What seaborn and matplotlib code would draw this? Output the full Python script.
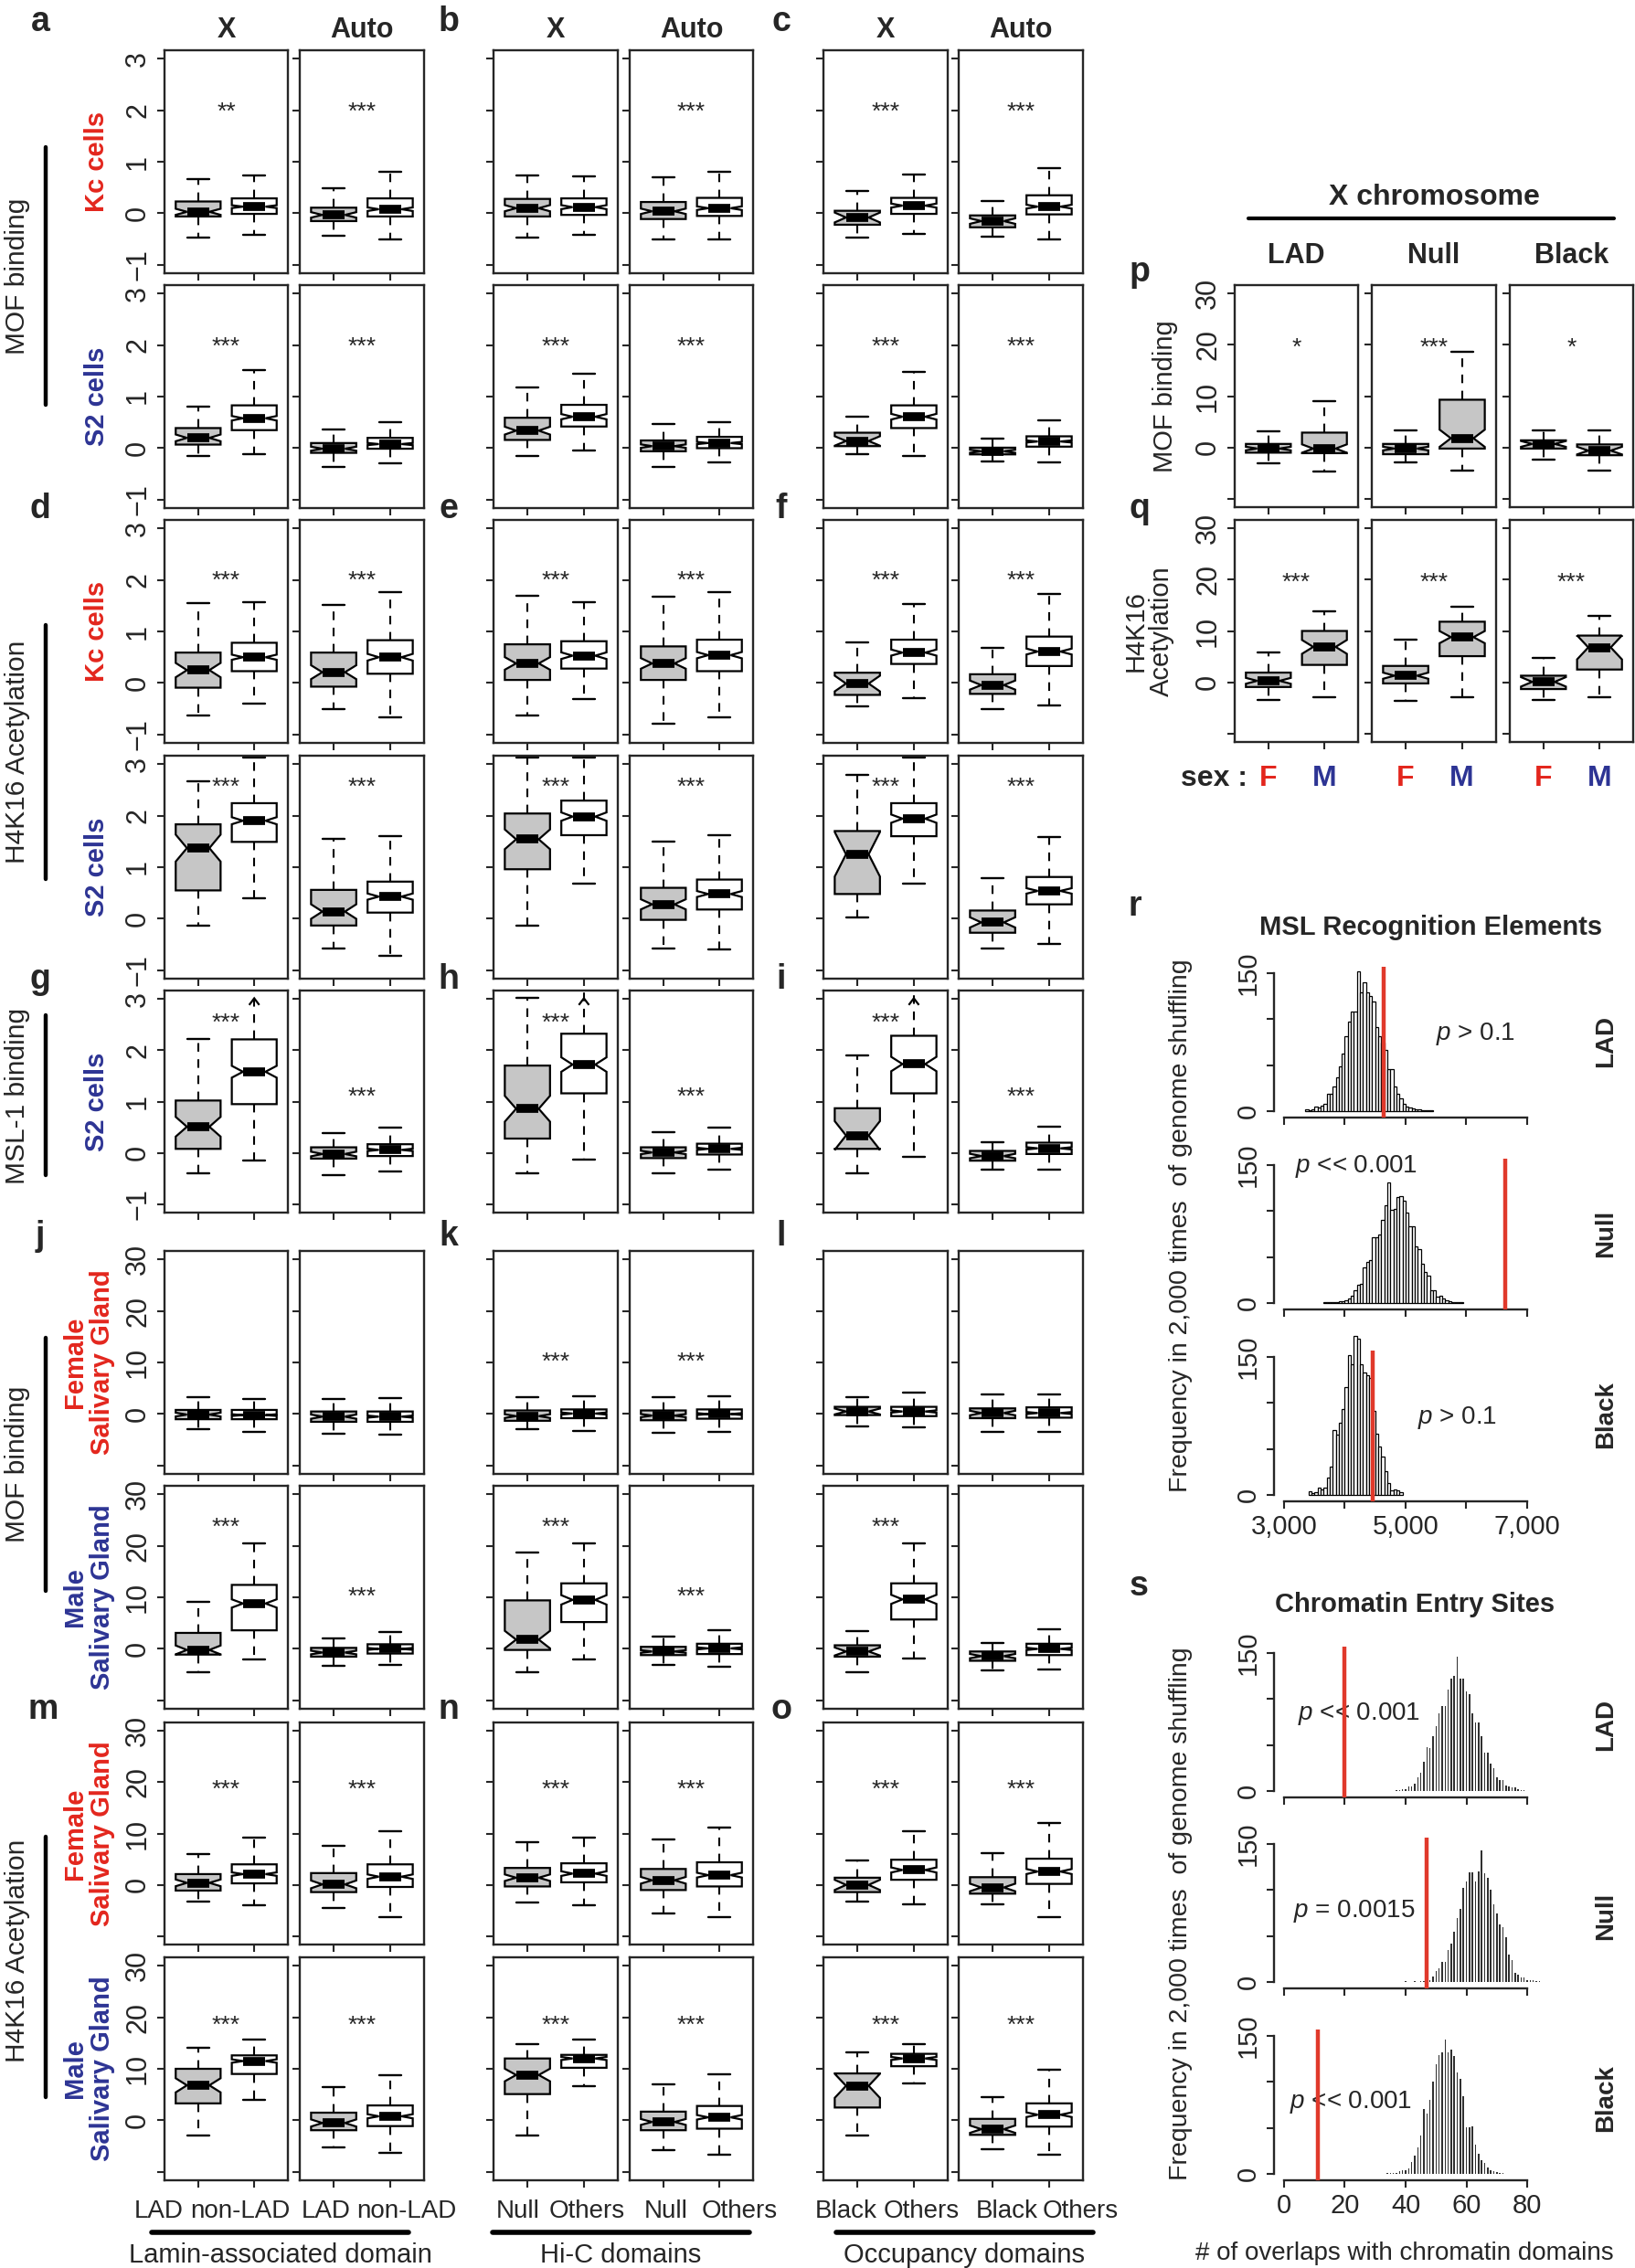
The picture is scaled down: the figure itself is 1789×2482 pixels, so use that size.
import numpy as np
import matplotlib.pyplot as plt
import seaborn as sns
from matplotlib.lines import Line2D

W, H = 1790, 2482
RED = "#e3261d"
BLUE = "#2d3494"
GRAY = "#c6c6c6"
LINE_RED = "#e0392b"

# ---- panels a-o : box summaries, one list per row, 6 panels x (gray, white) ----
col_groups = ["LAD X", "LAD Auto", "Null X", "Null Auto", "Black X", "Black Auto"]
box_lo = [
    [-0.47, -0.41, -0.43, -0.51, -0.47, -0.41, -0.50, -0.51, -0.47, -0.40, -0.45, -0.51],
    [-0.15, -0.11, -0.36, -0.30, -0.15, -0.04, -0.37, -0.28, -0.11, -0.15, -0.26, -0.27],
    [-0.62, -0.39, -0.51, -0.67, -0.62, -0.31, -0.78, -0.67, -0.45, -0.30, -0.51, -0.43],
    [-0.13, 0.40, -0.57, -0.71, -0.13, 0.68, -0.57, -0.59, 0.03, 0.68, -0.57, -0.49],
    [-0.40, -0.14, -0.43, -0.36, -0.40, -0.12, -0.40, -0.33, -0.40, -0.08, -0.33, -0.33],
    [-2.9, -3.5, -3.8, -4.0, -2.9, -3.3, -3.7, -3.5, -2.4, -2.6, -3.4, -3.4],
    [-4.5, -2.1, -3.3, -3.1, -4.5, -2.1, -3.1, -3.4, -4.5, -1.9, -4.2, -3.9],
    [-3.3, -3.9, -4.4, -6.3, -3.5, -3.9, -5.6, -6.3, -3.3, -3.7, -3.8, -6.3],
    [-2.9, 4.0, -5.2, -6.2, -2.9, 6.6, -5.8, -6.6, -2.9, 7.2, -5.5, -6.6],
]
box_q1 = [
    [-0.06, -0.01, -0.15, -0.06, -0.06, -0.03, -0.11, -0.05, -0.22, -0.01, -0.27, -0.02],
    [0.07, 0.35, -0.09, -0.01, 0.16, 0.42, -0.06, 0.00, 0.04, 0.39, -0.12, 0.03],
    [-0.09, 0.23, -0.07, 0.18, 0.06, 0.28, 0.06, 0.23, -0.23, 0.37, -0.21, 0.33],
    [0.55, 1.49, -0.13, 0.12, 0.96, 1.62, -0.02, 0.18, 0.48, 1.60, -0.27, 0.28],
    [0.08, 0.95, -0.11, -0.06, 0.28, 1.16, -0.10, -0.03, 0.08, 1.16, -0.15, -0.02],
    [-1.0, -1.0, -1.5, -1.5, -1.3, -0.8, -1.2, -0.9, -0.2, -0.4, -0.8, -0.7],
    [-1.1, 3.6, -1.5, -0.9, -0.2, 5.2, -1.2, -1.0, -1.5, 5.7, -2.3, -1.2],
    [-1.1, 0.3, -1.4, -0.4, -0.3, 0.5, -1.0, -0.3, -1.4, 1.0, -1.7, 0.2],
    [3.3, 9.0, -1.9, -1.1, 5.1, 10.2, -1.9, -1.6, 2.5, 10.5, -2.8, -1.2],
]
box_med = [
    [0.03, 0.13, -0.03, 0.08, 0.10, 0.12, 0.04, 0.10, -0.08, 0.15, -0.15, 0.13],
    [0.20, 0.58, -0.01, 0.08, 0.34, 0.61, 0.04, 0.10, 0.14, 0.61, -0.06, 0.13],
    [0.25, 0.50, 0.21, 0.50, 0.38, 0.53, 0.38, 0.54, -0.01, 0.59, -0.04, 0.61],
    [1.37, 1.90, 0.14, 0.43, 1.54, 1.98, 0.28, 0.48, 1.25, 1.94, -0.07, 0.54],
    [0.51, 1.58, -0.02, 0.06, 0.86, 1.72, 0.01, 0.08, 0.34, 1.73, -0.06, 0.09],
    [-0.1, -0.2, -0.5, -0.5, -0.4, 0.1, -0.3, 0.0, 0.5, 0.5, 0.2, 0.2],
    [-0.2, 8.8, -0.7, 0.0, 1.8, 9.5, -0.5, 0.1, -0.5, 9.6, -1.4, 0.0],
    [0.4, 2.1, 0.1, 1.6, 1.4, 2.2, 0.9, 1.9, 0.0, 2.9, -0.5, 2.6],
    [6.8, 11.5, -0.5, 0.8, 8.8, 12.0, -0.3, 0.6, 6.7, 12.0, -1.7, 1.1],
]
box_q3 = [
    [0.23, 0.29, 0.11, 0.29, 0.28, 0.29, 0.22, 0.30, 0.05, 0.30, -0.04, 0.35],
    [0.39, 0.83, 0.10, 0.20, 0.59, 0.84, 0.15, 0.22, 0.30, 0.83, 0.01, 0.23],
    [0.59, 0.78, 0.59, 0.83, 0.75, 0.81, 0.71, 0.84, 0.20, 0.84, 0.17, 0.90],
    [1.83, 2.24, 0.56, 0.72, 2.04, 2.29, 0.60, 0.76, 1.70, 2.24, 0.16, 0.81],
    [1.02, 2.21, 0.11, 0.17, 1.70, 2.32, 0.11, 0.18, 0.87, 2.28, 0.04, 0.20],
    [0.8, 0.8, 0.5, 0.5, 0.7, 0.9, 0.7, 0.9, 1.4, 1.4, 1.1, 1.3],
    [3.1, 12.4, 0.2, 0.9, 9.4, 12.7, 0.4, 1.0, 0.7, 12.7, -0.5, 1.0],
    [2.1, 4.0, 2.3, 4.0, 3.3, 4.2, 3.1, 4.4, 1.4, 4.9, 1.5, 5.1],
    [10.0, 12.6, 1.5, 2.9, 12.0, 12.7, 1.7, 2.8, 9.1, 12.9, 0.3, 3.3],
]
box_hi = [
    [0.67, 0.74, 0.48, 0.80, 0.73, 0.71, 0.70, 0.81, 0.44, 0.76, 0.24, 0.88],
    [0.81, 1.51, 0.37, 0.51, 1.18, 1.45, 0.47, 0.51, 0.61, 1.47, 0.19, 0.54],
    [1.55, 1.57, 1.52, 1.77, 1.69, 1.57, 1.67, 1.77, 0.78, 1.54, 0.68, 1.72],
    [2.66, 3.12, 1.54, 1.60, 3.12, 3.12, 1.49, 1.62, 2.78, 3.12, 0.78, 1.59],
    [2.22, 3.60, 0.39, 0.49, 3.02, 3.60, 0.41, 0.49, 1.90, 3.60, 0.21, 0.51],
    [3.3, 3.0, 2.9, 3.1, 3.3, 3.4, 3.3, 3.4, 3.3, 4.1, 3.8, 3.8],
    [9.2, 20.4, 2.1, 3.3, 18.7, 20.4, 2.4, 3.6, 3.5, 20.4, 1.2, 3.8],
    [6.0, 9.2, 7.6, 10.4, 8.4, 9.2, 8.9, 11.1, 4.8, 10.5, 6.1, 12.0],
    [14.0, 15.7, 6.5, 8.7, 14.8, 15.7, 7.0, 8.9, 13.1, 14.8, 4.6, 9.8],
]
# domains per box (sets the notch width, R rule 1.58*IQR/sqrt(n))
dom_n = [60, 300, 60, 250, 80, 170, 100, 250, 20, 160, 47, 250]
row_stars = [
    ["**", "***", "", "***", "***", "***"],
    ["***"] * 6, ["***"] * 6, ["***"] * 6, ["***"] * 6,
    ["", "", "***", "***", "", ""],
    ["***", "***", "***", "***", "***", ""],
    ["***"] * 6, ["***"] * 6,
]
star_y = [
    [1.95] * 6, [1.95] * 6, [1.97] * 6, [2.54] * 6,
    [2.52, 1.08, 2.52, 1.08, 2.52, 1.08],
    [10.0] * 6,
    [23.4, 10.1, 23.4, 10.1, 23.4, 10.1],
    [18.4] * 6, [18.3] * 6,
]
bottom_labels = ["LAD", "non-LAD", "LAD", "non-LAD", "Null", "Others", "Null", "Others",
                 "Black", "Others", "Black", "Others"]

# ---- panels p, q : X chromosome, female vs male ----
xchr_domains = ["LAD", "Null", "Black"]
xchr_lo = [[-3.0, -4.6, -2.9, -4.4, -2.4, -4.4], [-3.4, -2.8, -3.6, -2.8, -3.4, -2.8]]
xchr_q1 = [[-1.0, -1.1, -1.3, -0.2, -0.2, -1.5], [-0.9, 3.4, -0.2, 5.1, -1.3, 2.5]]
xchr_med = [[-0.2, -0.2, -0.2, 1.8, 0.7, -0.6], [0.3, 6.9, 1.3, 8.8, 0.1, 6.8]]
xchr_q3 = [[0.7, 2.9, 0.7, 9.3, 1.4, 0.6], [1.9, 10.0, 3.2, 11.8, 1.3, 9.1]]
xchr_hi = [[3.2, 9.0, 3.3, 18.7, 3.3, 3.3], [5.8, 13.8, 8.4, 14.8, 4.7, 12.9]]
xchr_n = [60, 60, 80, 80, 20, 20]
xchr_stars = [["*", "***", "*"], ["***", "***", "***"]]

# ---- panel r : MSL recognition elements, 2,000 shuffles ----
mre_lad_bins = list(range(3350, 5450, 50))
mre_lad_counts = [2, 1, 2, 5, 4, 6, 8, 19, 19, 27, 37, 49, 63, 82, 97, 108, 108, 152, 129, 140,
                  129, 125, 119, 91, 82, 75, 67, 46, 46, 27, 19, 14, 8, 5, 4, 3, 2, 2, 1, 1, 1, 1]
mre_null_bins = list(range(3650, 5950, 50))
mre_null_counts = [1, 1, 1, 1, 1, 2, 2, 3, 5, 8, 14, 20, 21, 39, 45, 47, 72, 72, 75, 90,
                   106, 131, 101, 102, 115, 116, 111, 98, 84, 84, 62, 59, 43, 34, 30, 14, 14, 7, 8, 5,
                   3, 2, 1, 1, 1, 1]
mre_black_bins = list(range(3400, 4950, 50))
mre_black_counts = [4, 2, 3, 8, 6, 8, 19, 31, 71, 66, 79, 93, 117, 152, 142, 173, 170, 142, 133, 130,
                    127, 91, 67, 53, 42, 26, 13, 5, 6, 5, 3]
mre_observed = [4640, 6640, 4460]
mre_pvals = ["$p$ > 0.1", "$p$ << 0.001", "$p$ > 0.1"]

# ---- panel s : chromatin entry sites ----
ces_lad_vals = list(range(37, 80))
ces_lad_counts = [1, 1, 2, 2, 5, 5, 8, 15, 20, 32, 48, 47, 60, 71, 85, 92, 92, 110, 122, 125,
                  146, 122, 122, 108, 105, 85, 75, 75, 60, 42, 42, 30, 25, 15, 12, 12, 6, 5, 4, 4,
                  2, 1, 1]
ces_null_vals = list(range(40, 85))
ces_null_counts = [1, 0, 0, 1, 0, 1, 1, 1, 2, 6, 12, 15, 22, 22, 35, 42, 55, 70, 80, 102,
                   109, 119, 119, 109, 120, 143, 118, 113, 100, 85, 75, 63, 60, 49, 30, 24, 10, 8, 5, 5,
                   2, 2, 2, 1, 1]
ces_black_vals = list(range(34, 73))
ces_black_counts = [1, 1, 1, 1, 3, 4, 4, 6, 13, 20, 29, 42, 71, 66, 81, 100, 119, 129, 132, 146,
                    132, 135, 128, 110, 103, 85, 51, 51, 52, 32, 22, 15, 12, 7, 4, 3, 2, 1, 1]
ces_observed = [20, 47, 11]
ces_pvals = ["$p$ << 0.001", "$p$ = 0.0015", "$p$ << 0.001"]

sns.set_style("ticks")
plt.rcParams["font.family"] = ["Liberation Sans", "DejaVu Sans"]
plt.rcParams["mathtext.fontset"] = "custom"
plt.rcParams["mathtext.it"] = "Liberation Sans:italic"
plt.rcParams["mathtext.rm"] = "Liberation Sans"

fig = plt.figure(figsize=(17.9, 24.82), dpi=100)


def px_axes(x0, y0, x1, y1):
    return fig.add_axes([x0 / W, 1 - y1 / H, (x1 - x0) / W, (y1 - y0) / H])


def ftext(x, y, s, **kw):
    fig.text(x / W, 1 - y / H, s, **kw)


def fline(x0, y0, x1, y1, lw=3.0):
    fig.add_artist(Line2D([x0 / W, x1 / W], [1 - y0 / H, 1 - y1 / H], color="black",
                          lw=lw, solid_capstyle="round"))


def box_panel(ax, lo, q1, med, q3, hi, n, fills, ylim, ticks, ticklabels):
    stats = []
    for i in range(2):
        half = 1.58 * (q3[i] - q1[i]) / np.sqrt(n[i])
        stats.append(dict(whislo=lo[i], q1=q1[i], med=med[i], q3=q3[i], whishi=hi[i],
                          cilo=med[i] - half, cihi=med[i] + half, fliers=[]))
    bp = ax.bxp(stats, positions=[1, 2], widths=0.8, shownotches=True, patch_artist=True,
                showfliers=False, manage_ticks=False,
                boxprops=dict(edgecolor="black", linewidth=1.6),
                whiskerprops=dict(color="black", linewidth=1.5, linestyle=(0, (4.5, 4))),
                capprops=dict(color="black", linewidth=1.7),
                medianprops=dict(color="black", linewidth=7, solid_capstyle="butt"))
    for patch, fc in zip(bp["boxes"], fills):
        patch.set_facecolor(fc)
    # whiskers running off the top get an open arrow head, as in the original
    span = ylim[1] - ylim[0]
    for i, pos in enumerate([1, 2]):
        if hi[i] > ylim[1]:
            ax.plot([pos - 0.09, pos, pos + 0.09],
                    [ylim[1] - 0.065 * span, ylim[1] - 0.035 * span, ylim[1] - 0.065 * span],
                    color="black", lw=1.6, solid_capstyle="butt", solid_joinstyle="miter")
    ax.set_xlim(0.4, 2.6)
    ax.set_ylim(*ylim)
    ax.set_xticks([1, 2])
    ax.set_xticklabels([])
    ax.set_yticks(ticks)
    if ticklabels:
        ax.set_yticklabels(ticklabels, rotation=90, va="center")
    else:
        ax.set_yticklabels([])
    ax.tick_params(direction="out", length=6, width=1.5, labelsize=22, pad=4)
    for sp in ax.spines.values():
        sp.set_linewidth(1.7)


col_px = [(180, 315), (328, 464), (540, 676), (689, 824), (901, 1037), (1049, 1185)]
row_px = [(55, 299), (312, 556), (569, 813), (827, 1071), (1084, 1327),
          (1369, 1613), (1626, 1870), (1885, 2128), (2142, 2386)]
small_ylim, big_ylim = (-1.16, 3.16), (-11.6, 31.6)

for r in range(9):
    small = r < 5
    ylim = small_ylim if small else big_ylim
    ticks = [-1, 0, 1, 2, 3] if small else [-10, 0, 10, 20, 30]
    tlabels = ["\u22121", "0", "1", "2", "3"] if small else ["", "0", "10", "20", "30"]
    y0, y1 = row_px[r]
    for c in range(6):
        x0, x1 = col_px[c]
        ax = px_axes(x0, y0, x1, y1)
        k = slice(2 * c, 2 * c + 2)
        box_panel(ax, box_lo[r][k], box_q1[r][k], box_med[r][k], box_q3[r][k], box_hi[r][k],
                  dom_n[k], [GRAY, "white"], ylim, ticks, tlabels if c == 0 else None)
        if row_stars[r][c]:
            ax.text(1.5, star_y[r][c], row_stars[r][c], ha="center", va="center", fontsize=19)

# p, q panels
pq_cols = [(1351, 1486), (1501, 1637), (1652, 1787)]
pq_rows = [(312, 555), (569, 812)]
for r in range(2):
    for c in range(3):
        ax = px_axes(pq_cols[c][0], pq_rows[r][0], pq_cols[c][1], pq_rows[r][1])
        k = slice(2 * c, 2 * c + 2)
        box_panel(ax, xchr_lo[r][k], xchr_q1[r][k], xchr_med[r][k], xchr_q3[r][k], xchr_hi[r][k],
                  xchr_n[k], [GRAY, GRAY], big_ylim, [-10, 0, 10, 20, 30],
                  ["", "0", "10", "20", "30"] if c == 0 else None)
        ax.text(1.5, 19.3, xchr_stars[r][c], ha="center", va="center", fontsize=19)


def hist_panel(ax, x, counts, obs, pval, pval_xy, xlim, xticks, xticklabels, discrete):
    if discrete:
        sns.histplot(x=x, weights=counts, discrete=True, shrink=0.45, ax=ax,
                     color="#303030", edgecolor="none", linewidth=0, alpha=1)
    else:
        edges = list(x) + [x[-1] + 50]
        centers = [b + 25 for b in x]
        sns.histplot(x=centers, weights=counts, bins=edges, ax=ax,
                     color="white", edgecolor="black", linewidth=0.9, alpha=1)
    ax.vlines(obs, -7, 157, color=LINE_RED, lw=3.2, zorder=5)
    ax.text(pval_xy[0], pval_xy[1], pval, fontsize=20, ha="left", va="center")
    ax.set_xlim(*xlim)
    ax.set_ylim(-7, 180)
    ax.set(xlabel="", ylabel="")
    ax.spines["top"].set_visible(False)
    ax.spines["right"].set_visible(False)
    ax.spines["left"].set_bounds(0, 150)
    ax.spines["bottom"].set_bounds(xticks[0], xticks[-1])
    for sp in ax.spines.values():
        sp.set_linewidth(1.7)
    ax.set_yticks([0, 50, 100, 150])
    ax.set_yticklabels(["0", "", "", "150"], rotation=90, va="center")
    ax.set_xticks(xticks)
    ax.set_xticklabels(xticklabels)
    ax.tick_params(direction="out", length=6, width=1.5, labelsize=21, pad=4)
    ax.patch.set_alpha(0)


hist_x0, hist_x1 = 1394, 1700
mre_sets = [(mre_lad_bins, mre_lad_counts), (mre_null_bins, mre_null_counts),
            (mre_black_bins, mre_black_counts)]
mre_zero_px = [1216, 1426, 1636]
mre_p_xy = [(5500, 84), (3180, 149), (5200, 84)]
for i, (bins, counts) in enumerate(mre_sets):
    z = mre_zero_px[i]
    ax = px_axes(hist_x0, z - 181, hist_x1, z + 7)
    labels = ["3,000", "", "5,000", "", "7,000"] if i == 2 else [""] * 5
    hist_panel(ax, bins, counts, mre_observed[i], mre_pvals[i], mre_p_xy[i],
               (2835, 7436), [3000, 4000, 5000, 6000, 7000], labels, False)

ces_sets = [(ces_lad_vals, ces_lad_counts), (ces_null_vals, ces_null_counts),
            (ces_black_vals, ces_black_counts)]
ces_zero_px = [1960, 2169, 2379]
ces_p_xy = [(4.6, 84), (3.0, 77), (1.8, 78)]
for i, (vals, counts) in enumerate(ces_sets):
    z = ces_zero_px[i]
    ax = px_axes(hist_x0, z - 181, hist_x1, z + 7)
    labels = ["0", "20", "40", "60", "80"] if i == 2 else [""] * 5
    hist_panel(ax, vals, counts, ces_observed[i], ces_pvals[i], ces_p_xy[i],
               (-3.3, 88.7), [0, 20, 40, 60, 80], labels, True)

# ---- text: headers, row labels, panel letters ----
for c, head in enumerate(["X", "Auto"] * 3):
    x0, x1 = col_px[c]
    ftext((x0 + x1) / 2, 33, head, ha="center", va="center", fontsize=22, fontweight="bold")

letters = [("a", 44, 24), ("b", 491, 24), ("c", 855, 24), ("d", 44, 557), ("e", 491, 557),
           ("f", 855, 557), ("g", 44, 1072), ("h", 491, 1072), ("i", 855, 1072),
           ("j", 44, 1353), ("k", 491, 1353), ("l", 855, 1353), ("m", 47, 1871),
           ("n", 491, 1871), ("o", 855, 1871), ("p", 1247, 298), ("q", 1247, 557),
           ("r", 1242, 992), ("s", 1246, 1736)]
for s, x, y in letters:
    ftext(x, y, s, ha="center", va="center", fontsize=27, fontweight="bold")

groups = [("MOF binding", 302, 161, 443), ("H4K16 Acetylation", 823, 684, 962),
          ("MSL-1 binding", 1199, 1111, 1286), ("MOF binding", 1602, 1464, 1741),
          ("H4K16 Acetylation", 2135, 2010, 2295)]
for label, yc, ya, yb in groups:
    ftext(19, yc, label, rotation=90, ha="center", va="center", fontsize=21.5)
    fline(50, ya, 50, yb, lw=3.2)

cell_labels = [("Kc cells", RED), ("S2 cells", BLUE), ("Kc cells", RED), ("S2 cells", BLUE),
               ("S2 cells", BLUE), ("Female\nSalivary Gland", RED), ("Male\nSalivary Gland", BLUE),
               ("Female\nSalivary Gland", RED), ("Male\nSalivary Gland", BLUE)]
for r, (label, color) in enumerate(cell_labels):
    yc = (row_px[r][0] + row_px[r][1]) / 2
    xc = 106 if "\n" not in label else 97
    ftext(xc, yc, label, rotation=90, ha="center", va="center", fontsize=21,
          fontweight="bold", color=color, multialignment="center", linespacing=1.05)

bottom_x = [174, 263, 357, 445, 567, 642, 729, 809, 926, 1008, 1102, 1182]
for x, lab in zip(bottom_x, bottom_labels):
    ftext(x, 2420, lab, ha="center", va="center", fontsize=20)
for lab, xa, xb in [("Lamin-associated domain", 166, 447), ("Hi-C domains", 539, 820),
                    ("Occupancy domains", 915, 1196)]:
    fline(xa, 2443, xb, 2443, lw=4)
    ftext((xa + xb) / 2, 2468, lab, ha="center", va="center", fontsize=21)

# p/q annotations
ftext(1569, 216, "X chromosome", ha="center", va="center", fontsize=23, fontweight="bold")
fline(1366, 239, 1766, 239, lw=3)
for c, dom in enumerate(xchr_domains):
    ftext((pq_cols[c][0] + pq_cols[c][1]) / 2, 280, dom, ha="center", va="center",
          fontsize=22, fontweight="bold")
    ftext(pq_cols[c][0] + 37, 852, "F", ha="center", va="center", fontsize=23,
          fontweight="bold", color=RED)
    ftext(pq_cols[c][0] + 98, 852, "M", ha="center", va="center", fontsize=23,
          fontweight="bold", color=BLUE)
ftext(1292, 852, "sex :", ha="left", va="center", fontsize=23, fontweight="bold")
ftext(1275, 434, "MOF binding", rotation=90, ha="center", va="center", fontsize=21)
ftext(1257, 691, "H4K16\nAcetylation", rotation=90, ha="center", va="center", fontsize=21,
      multialignment="center", linespacing=1.0)

# r/s annotations
ftext(1566, 1015, "MSL Recognition Elements", ha="center", va="center", fontsize=21,
      fontweight="bold")
ftext(1548, 1756, "Chromatin Entry Sites", ha="center", va="center", fontsize=21,
      fontweight="bold")
for yc in [1341, 2094]:
    ftext(1292, yc, "Frequency in 2,000 times  of genome shuffling", rotation=90,
          ha="center", va="center", fontsize=20.5)
for dom, y in zip(xchr_domains, [1139, 1350, 1548]):
    ftext(1757, y, dom, rotation=90, ha="center", va="center", fontsize=20, fontweight="bold")
for dom, y in zip(xchr_domains, [1888, 2097, 2296]):
    ftext(1757, y, dom, rotation=90, ha="center", va="center", fontsize=20, fontweight="bold")
ftext(1537, 2466, "# of overlaps with chromatin domains", ha="center", va="center", fontsize=20)

fig.savefig("out.png", dpi=100)
